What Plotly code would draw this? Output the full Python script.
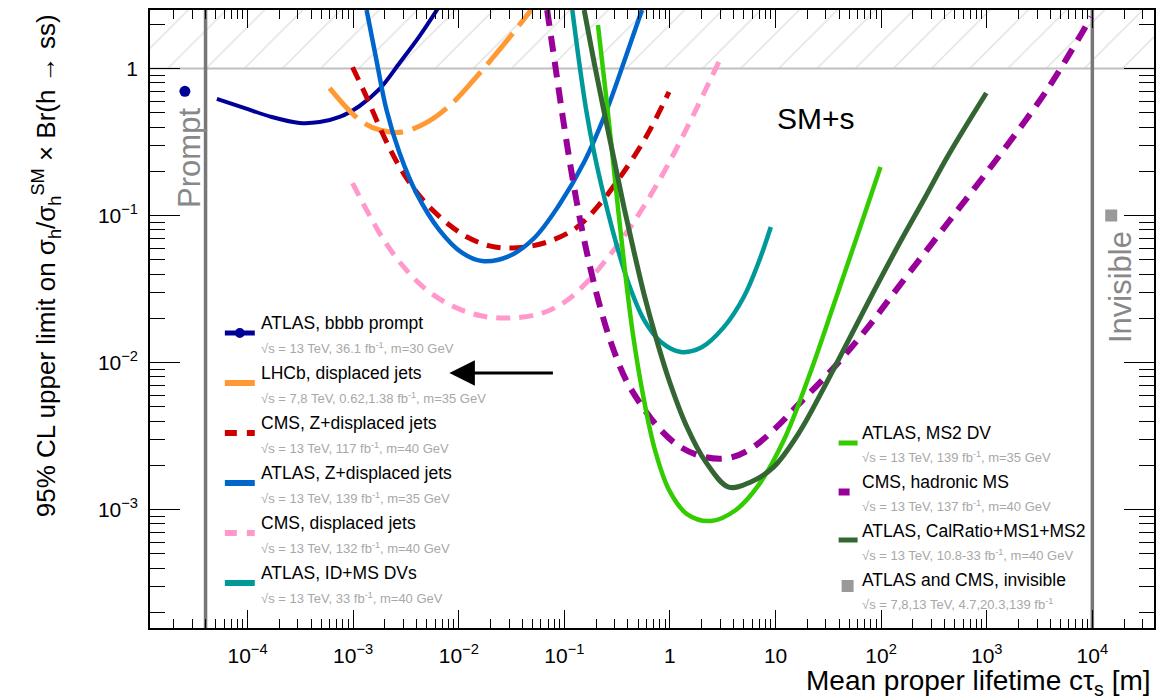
import plotly.graph_objects as go

# ---------------- data ----------------
bbbb_ctau = [5.12e-5, 9.41e-5, 1.69e-4, 3.11e-4, 4.81e-4, 7.43e-4, 1.15e-3, 1.78e-3, 2.75e-3, 4.25e-3, 6.56e-3]
bbbb_lim = [0.621, 0.538, 0.468, 0.426, 0.432, 0.468, 0.556, 0.726, 1.09, 1.66, 2.66]

lhcb_ctau = [5.98e-4, 1.15e-3, 1.78e-3, 2.93e-3, 5.27e-3, 8.71e-3, 1.26e-2, 2.42e-2, 4.85e-2]
lhcb_lim = [0.736, 0.447, 0.382, 0.370, 0.440, 0.582, 0.773, 1.337, 2.50]

cmsz_ctau = [9.86e-4, 1.34e-3, 1.78e-3, 2.31e-3, 3.06e-3, 4.25e-3, 5.87e-3, 8.15e-3, 1.20e-2,
             1.95e-2, 3.21e-2, 6.44e-2, 0.129, 0.213, 0.344, 0.593, 0.979]
cmsz_lim = [1.02, 0.640, 0.400, 0.270, 0.189, 0.136, 0.106, 0.0862, 0.0714,
            0.0621, 0.0601, 0.0650, 0.0822, 0.118, 0.186, 0.342, 0.692]

atlasz_ctau = [1.34e-3, 1.66e-3, 2.07e-3, 2.75e-3, 3.97e-3, 6.56e-3, 1.08e-2, 1.67e-2, 3.01e-2,
               5.19e-2, 8.93e-2, 0.154, 0.248, 0.367, 0.543]
atlasz_lim = [2.50, 1.143, 0.522, 0.266, 0.142, 0.0796, 0.0556, 0.0490, 0.0530,
              0.0703, 0.118, 0.231, 0.506, 1.107, 2.50]

cmsdj_ctau = [9.86e-4, 1.34e-3, 1.90e-3, 2.75e-3, 4.73e-3, 8.71e-3, 1.67e-2, 3.21e-2, 6.17e-2,
              0.104, 0.171, 0.265, 0.410, 0.634, 0.979, 1.51, 2.10, 2.90]
cmsdj_lim = [0.166, 0.109, 0.0703, 0.0483, 0.0321, 0.0242, 0.0207, 0.0201, 0.0217,
             0.0262, 0.0364, 0.0530, 0.0809, 0.132, 0.228, 0.419, 0.681, 1.107]

idms_ctau = [0.119, 0.138, 0.161, 0.191, 0.238, 0.309, 0.410, 0.568, 0.822, 1.27, 2.00,
             3.24, 5.00, 6.93, 9.02]
idms_lim = [2.50, 1.107, 0.522, 0.270, 0.134, 0.0650, 0.0337, 0.0195, 0.0138, 0.0118, 0.0127,
            0.0174, 0.0279, 0.0483, 0.0836]

cmsms_ctau = [0.0687, 0.0818, 0.0975, 0.116, 0.138, 0.171, 0.213, 0.277, 0.384, 0.543, 0.787,
              1.22, 2.10, 3.61, 5.96, 10.0, 16.6, 34.0, 71.3, 146, 434, 1288, 3819, 9750]
cmsms_lim = [2.50, 1.06, 0.447, 0.204, 0.101, 0.0483, 0.0254, 0.0136, 0.0076, 0.00506, 0.00358,
             0.00270, 0.00228, 0.00224, 0.00262, 0.00358, 0.00521, 0.00889, 0.0166, 0.0327,
             0.0903, 0.250, 0.736, 2.24]

ms2_ctau = [0.208, 0.254, 0.309, 0.376, 0.447, 0.556, 0.721, 0.979, 1.45, 2.44, 4.21, 6.93,
            12.0, 20.6, 35.5, 61.1, 98.6]
ms2_lim = [1.98, 0.565, 0.149, 0.0413, 0.0154, 0.00601, 0.00254, 0.00136, 0.000931, 0.000835,
           0.000993, 0.00147, 0.00297, 0.00796, 0.0246, 0.0773, 0.214]

calr_ctau = [0.154, 0.191, 0.238, 0.296, 0.367, 0.457, 0.568, 0.738, 0.979, 1.42, 2.19, 3.61,
             5.83, 9.62, 16.6, 28.6, 49.2, 84.7, 146, 252, 434, 991]
calr_lim = [2.50, 1.107, 0.506, 0.239, 0.114, 0.0565, 0.0292, 0.0147, 0.00760, 0.00376, 0.00210,
            0.00142, 0.00154, 0.00195, 0.00331, 0.00670, 0.0142, 0.0302, 0.0630, 0.127,
            0.258, 0.681]

prompt_point = ([2.55e-5], [0.70])
invisible_point = ([1.51e4], [0.10])
prompt_boundary = 4e-5
invisible_boundary = 1e4
excluded_level = 1.0

x_tickvals = [1e-4, 1e-3, 1e-2, 1e-1, 1, 10, 1e2, 1e3, 1e4]
x_ticktext = ["10<sup>\u22124</sup>", "10<sup>\u22123</sup>", "10<sup>\u22122</sup>",
              "10<sup>\u22121</sup>", "1", "10", "10<sup>2</sup>", "10<sup>3</sup>", "10<sup>4</sup>"]
y_tickvals = [1e-3, 1e-2, 1e-1, 1]
y_ticktext = ["10<sup>\u22123</sup>", "10<sup>\u22122</sup>", "10<sup>\u22121</sup>", "1"]

left_labels = ["ATLAS, bbbb prompt", "LHCb, displaced jets", "CMS, Z+displaced jets",
               "ATLAS, Z+displaced jets", "CMS, displaced jets", "ATLAS, ID+MS DVs"]
left_subs = ["\u221as = 13 TeV, 36.1 fb<sup>-1</sup>, m=30 GeV",
             "\u221as = 7,8 TeV, 0.62,1.38 fb<sup>-1</sup>, m=35 GeV",
             "\u221as = 13 TeV, 117 fb<sup>-1</sup>, m=40 GeV",
             "\u221as = 13 TeV, 139 fb<sup>-1</sup>, m=35 GeV",
             "\u221as = 13 TeV, 132 fb<sup>-1</sup>, m=40 GeV",
             "\u221as = 13 TeV, 33 fb<sup>-1</sup>, m=40 GeV"]
right_labels = ["ATLAS, MS2 DV", "CMS, hadronic MS", "ATLAS, CalRatio+MS1+MS2",
                "ATLAS and CMS, invisible"]
right_subs = ["\u221as = 13 TeV, 139 fb<sup>-1</sup>, m=35 GeV",
              "\u221as = 13 TeV, 137 fb<sup>-1</sup>, m=40 GeV",
              "\u221as = 13 TeV, 10.8-33 fb<sup>-1</sup>, m=40 GeV",
              "\u221as = 7,8,13 TeV, 4.7,20.3,139 fb<sup>-1</sup>"]

# ---------------- styles ----------------
C_NAVY, C_ORANGE, C_RED, C_BLUE = "#000099", "#ff9933", "#cc0000", "#0066cc"
C_PINK, C_TEAL, C_PURPLE = "#ff99cc", "#009999", "#990099"
C_LGREEN, C_DGREEN, C_GRAY = "#33cc00", "#336633", "#999999"
FONT = "Liberation Sans, Arial, Helvetica, sans-serif"

curves = [
    (bbbb_ctau, bbbb_lim, C_NAVY, "solid", 4),
    (lhcb_ctau, lhcb_lim, C_ORANGE, "40px,10px", 5),
    (cmsz_ctau, cmsz_lim, C_RED, "14px,9px", 5),
    (atlasz_ctau, atlasz_lim, C_BLUE, "solid", 4.5),
    (cmsdj_ctau, cmsdj_lim, C_PINK, "14px,9px", 5),
    (idms_ctau, idms_lim, C_TEAL, "solid", 4.5),
    (cmsms_ctau, cmsms_lim, C_PURPLE, "16px,10px", 6),
    (ms2_ctau, ms2_lim, C_LGREEN, "solid", 4.5),
    (calr_ctau, calr_lim, C_DGREEN, "solid", 5),
]

fig = go.Figure()

# excluded (hatched) region above 1
fig.add_trace(go.Scatter(
    x=[1e-6, 1e6, 1e6, 1e-6], y=[excluded_level, excluded_level, 100, 100],
    fill="toself", mode="lines", line=dict(width=0),
    fillcolor="rgba(0,0,0,0)",
    fillpattern=dict(shape="/", fgcolor="#c0c0c0", bgcolor="white", size=27, solidity=0.05),
    hoverinfo="skip", showlegend=False))
fig.add_trace(go.Scatter(x=[1e-6, 1e6], y=[excluded_level, excluded_level], mode="lines",
                         line=dict(color="#c0c0c0", width=2), showlegend=False, hoverinfo="skip"))

# prompt / invisible boundaries
for xb in (prompt_boundary, invisible_boundary):
    fig.add_trace(go.Scatter(x=[xb, xb], y=[1e-6, 100], mode="lines",
                             line=dict(color="#777777", width=3.5), showlegend=False))

for xs, ys, col, dash, w in curves:
    fig.add_trace(go.Scatter(x=xs, y=ys, mode="lines",
                             line=dict(color=col, width=w, dash=dash, shape="spline", smoothing=1.0),
                             showlegend=False))

fig.add_trace(go.Scatter(x=prompt_point[0], y=prompt_point[1], mode="markers",
                         marker=dict(color=C_NAVY, size=11, symbol="circle"), showlegend=False))
fig.add_trace(go.Scatter(x=invisible_point[0], y=invisible_point[1], mode="markers",
                         marker=dict(color=C_GRAY, size=12, symbol="square"), showlegend=False))

# ---------------- layout helpers (pixel -> paper) ----------------
L, R, T, B = 150, 1156, 10, 628
def px(x):
    return (x - L) / (R - L)
def py(y):
    return (B - y) / (B - T)

ann = []
shapes = []

def text(x, y, s, size, color="black", xanchor="left", angle=0):
    ann.append(dict(x=px(x), y=py(y), xref="paper", yref="paper", text=s, showarrow=False,
                    xanchor=xanchor, yanchor="middle", textangle=angle,
                    font=dict(family=FONT, size=size, color=color)))

# left legend
left_styles = [(C_NAVY, "solid", 5), (C_ORANGE, "solid", 6), (C_RED, "12px,10px", 6),
               (C_BLUE, "solid", 6), (C_PINK, "12px,10px", 6), (C_TEAL, "solid", 6)]
for i, (lab, sub) in enumerate(zip(left_labels, left_subs)):
    ytxt = 323 + 50 * i
    text(259, ytxt, lab, 17.5)
    text(259, ytxt + 25, sub, 13, color="#a8a8a8")
    col, dash, w = left_styles[i]
    shapes.append(dict(type="line", xref="paper", yref="paper", x0=px(225), x1=px(255),
                       y0=py(ytxt + 10), y1=py(ytxt + 10), line=dict(color=col, width=w, dash=dash)))
shapes.append(dict(type="circle", xref="paper", yref="paper", x0=px(235), x1=px(245),
                   y0=py(338), y1=py(328), fillcolor=C_NAVY, line=dict(color=C_NAVY, width=0)))

# right legend
for i, (lab, sub) in enumerate(zip(right_labels, right_subs)):
    ytxt = 433 + 49 * i
    text(861, ytxt, lab, 17.5)
    text(861, ytxt + 24, sub, 13, color="#a8a8a8")
shapes.append(dict(type="line", xref="paper", yref="paper", x0=px(840), x1=px(859),
                   y0=py(443), y1=py(443), line=dict(color=C_LGREEN, width=5)))
shapes.append(dict(type="line", xref="paper", yref="paper", x0=px(840), x1=px(851),
                   y0=py(492), y1=py(492), line=dict(color=C_PURPLE, width=7)))
shapes.append(dict(type="line", xref="paper", yref="paper", x0=px(840), x1=px(859),
                   y0=py(540), y1=py(540), line=dict(color=C_DGREEN, width=5)))
shapes.append(dict(type="rect", xref="paper", yref="paper", x0=px(843), x1=px(855),
                   y0=py(592), y1=py(580), fillcolor=C_GRAY, line=dict(width=0)))

# labels on plot
text(817, 118, "SM+s", 30, xanchor="center")
text(189, 158, "Prompt", 31, color="#888888", xanchor="center", angle=-90)
text(1123, 287, "Invisible", 31, color="#888888", xanchor="center", angle=-90)

# axis titles
text(46, 266, "95% CL upper limit on \u03c3<sub>h</sub>/\u03c3<sub>h</sub><sup>SM</sup> \u00d7 Br(h \u2192 ss)",
     26, xanchor="center", angle=-90)
text(1155, 683, "Mean proper lifetime c\u03c4<sub>s</sub> [m]", 28, xanchor="right")

# arrow
ann.append(dict(x=px(450), y=py(373), xref="paper", yref="paper", ax=105, ay=0,
                axref="pixel", ayref="pixel", text="", showarrow=True, arrowhead=2,
                arrowsize=1.7, arrowwidth=3, arrowcolor="black"))

x_minor = [m * 10.0 ** e for e in range(-5, 5) for m in range(2, 10)]
y_minor = [m * 10.0 ** e for e in range(-4, 1) for m in range(2, 10)]

fig.update_layout(
    width=1158, height=700,
    margin=dict(l=L, r=1158 - R, t=T, b=700 - B),
    plot_bgcolor="white", paper_bgcolor="white",
    font=dict(family=FONT, color="black"),
    showlegend=False,
    annotations=ann, shapes=shapes,
    xaxis=dict(type="log", range=[-4.924, 4.584], showgrid=False, zeroline=False,
               showline=True, linecolor="black", linewidth=1.5, mirror="allticks",
               ticks="inside", ticklen=18, tickwidth=1.2, tickcolor="black",
               tickvals=x_tickvals, ticktext=x_ticktext, tickfont=dict(size=21),
               ticklabelstandoff=8,
               minor=dict(ticks="inside", ticklen=9, tickwidth=1, tickcolor="black",
                          tickvals=x_minor, showgrid=False)),
    yaxis=dict(type="log", range=[-3.806, 0.398], showgrid=False, zeroline=False,
               showline=True, linecolor="black", linewidth=1.5, mirror="allticks",
               ticks="inside", ticklen=30, tickwidth=1.2, tickcolor="black",
               tickvals=y_tickvals, ticktext=y_ticktext, tickfont=dict(size=21),
               ticklabelstandoff=6,
               minor=dict(ticks="inside", ticklen=15, tickwidth=1, tickcolor="black",
                          tickvals=y_minor, showgrid=False)),
)

fig.write_html("out.html", config={"displayModeBar": False},
               post_script="document.body.style.margin='0px';")
